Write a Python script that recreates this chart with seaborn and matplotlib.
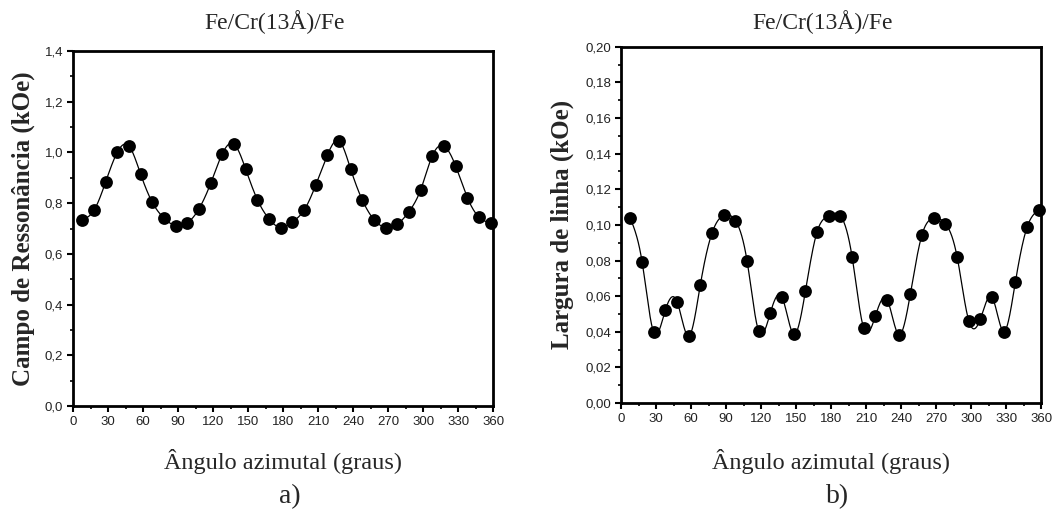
import numpy as np
import pandas as pd
import matplotlib
matplotlib.use("Agg")
import matplotlib.pyplot as plt
from matplotlib.ticker import MultipleLocator, FuncFormatter
import seaborn as sns

# Azimuthal angle (degrees)
angles = [8, 18, 28, 38, 48, 58, 68, 78, 88, 98, 108, 118,
          128, 138, 148, 158, 168, 178, 188, 198, 208, 218, 228, 238,
          248, 258, 268, 278, 288, 298, 308, 318, 328, 338, 348, 358]

# Resonance field (kOe)
campo = [0.735, 0.772, 0.884, 1.001, 1.025, 0.914, 0.803, 0.741, 0.711, 0.722, 0.778, 0.878,
         0.995, 1.033, 0.934, 0.814, 0.738, 0.704, 0.726, 0.772, 0.871, 0.989, 1.046, 0.934,
         0.812, 0.735, 0.704, 0.717, 0.767, 0.853, 0.987, 1.025, 0.946, 0.822, 0.745, 0.722]

# Linewidth (kOe)
largura = [0.1036, 0.0794, 0.0397, 0.0522, 0.0569, 0.0375, 0.0665, 0.0955, 0.1054, 0.1024, 0.0798, 0.0403,
           0.0507, 0.0594, 0.0386, 0.0627, 0.0961, 0.1051, 0.1051, 0.0822, 0.0419, 0.0489, 0.0581, 0.0384,
           0.0614, 0.0946, 0.1037, 0.1007, 0.0822, 0.0463, 0.0472, 0.0594, 0.0401, 0.0680, 0.0987, 0.1084]

titulo = "Fe/Cr(13Å)/Fe"
xlabel = "Ângulo azimutal (graus)"
ylabels = ["Campo de Ressonância (kOe)", "Largura de linha (kOe)"]
paineis = ["a)", "b)"]


def natural_spline(x, y, xs):
    """Natural cubic spline through (x, y), evaluated at xs."""
    x = np.asarray(x, float)
    y = np.asarray(y, float)
    n = len(x)
    h = np.diff(x)
    A = np.zeros((n, n))
    b = np.zeros(n)
    A[0, 0] = A[-1, -1] = 1.0
    for i in range(1, n - 1):
        A[i, i - 1] = h[i - 1]
        A[i, i] = 2 * (h[i - 1] + h[i])
        A[i, i + 1] = h[i]
        b[i] = 6 * ((y[i + 1] - y[i]) / h[i] - (y[i] - y[i - 1]) / h[i - 1])
    M = np.linalg.solve(A, b)
    idx = np.clip(np.searchsorted(x, xs) - 1, 0, n - 2)
    x0, x1 = x[idx], x[idx + 1]
    y0, y1 = y[idx], y[idx + 1]
    m0, m1 = M[idx], M[idx + 1]
    hh = x1 - x0
    t0 = x1 - xs
    t1 = xs - x0
    return (m0 * t0 ** 3 + m1 * t1 ** 3) / (6 * hh) \
        + (y0 / hh - m0 * hh / 6) * t0 + (y1 / hh - m1 * hh / 6) * t1


sns.set_theme(style="ticks")
plt.rcParams["font.family"] = ["Liberation Serif", "DejaVu Serif"]
tick_font = ["Liberation Sans Narrow", "Liberation Sans", "DejaVu Sans"]

fig = plt.figure(figsize=(10.58, 5.2), dpi=100)
ax_a = fig.add_axes([0.069, 0.219, 0.397, 0.683])
ax_b = fig.add_axes([0.587, 0.225, 0.397, 0.685])

configs = [
    (ax_a, campo, 1.4, 0.2, 0.1, "{:.1f}", 0.022),
    (ax_b, largura, 0.20, 0.02, 0.01, "{:.2f}", 0.531),
]

for k, (ax, vals, ymax, major, minor, fmt, ylab_x) in enumerate(configs):
    df = pd.DataFrame({"angulo": angles, "valor": vals})
    xs = np.linspace(angles[0], angles[-1], 1200)
    curve = pd.DataFrame({"angulo": xs, "valor": natural_spline(angles, vals, xs)})
    sns.lineplot(data=curve, x="angulo", y="valor", ax=ax, color="black",
                 linewidth=0.9, estimator=None, sort=False, zorder=2)
    sns.scatterplot(data=df, x="angulo", y="valor", ax=ax, color="black",
                    s=85, marker="o", edgecolor="black", linewidth=0, zorder=3,
                    clip_on=False)

    ax.set_xlim(0, 360)
    ax.set_ylim(0, ymax)
    ax.xaxis.set_major_locator(MultipleLocator(30))
    ax.xaxis.set_minor_locator(MultipleLocator(15))
    ax.yaxis.set_major_locator(MultipleLocator(major))
    ax.yaxis.set_minor_locator(MultipleLocator(minor))
    ax.yaxis.set_major_formatter(FuncFormatter(lambda v, p, f=fmt: f.format(v).replace(".", ",")))
    ax.xaxis.set_major_formatter(FuncFormatter(lambda v, p: f"{v:.0f}"))

    for side in ["top", "right", "left", "bottom"]:
        ax.spines[side].set_visible(True)
        ax.spines[side].set_linewidth(2.0)
        ax.spines[side].set_color("black")

    ax.tick_params(which="major", direction="out", length=4, width=1.5,
                   color="black", labelsize=9.5, pad=3, top=False, right=False)
    ax.tick_params(which="minor", direction="out", length=2.5, width=1.2,
                   color="black", top=False, right=False)
    for lbl in ax.get_xticklabels() + ax.get_yticklabels():
        lbl.set_family(tick_font)
        lbl.set_color("#222222")

    ax.set_xlabel("")
    ax.set_ylabel("")
    ax.grid(False)

    cx = (ax.get_position().x0 + ax.get_position().x1) / 2
    fig.text(cx - 0.008, 0.958, titulo, ha="center", va="center", fontsize=17)
    fig.text(cx, 0.113, xlabel, ha="center", va="center", fontsize=17.5)
    fig.text(cx + 0.006, 0.045, paineis[k], ha="center", va="center", fontsize=20)
    cy = (ax.get_position().y0 + ax.get_position().y1) / 2
    fig.text(ylab_x, cy, ylabels[k], ha="center", va="center", rotation=90,
             fontsize=18, fontweight="bold")

fig.savefig("out.png", dpi=100, facecolor="white")
